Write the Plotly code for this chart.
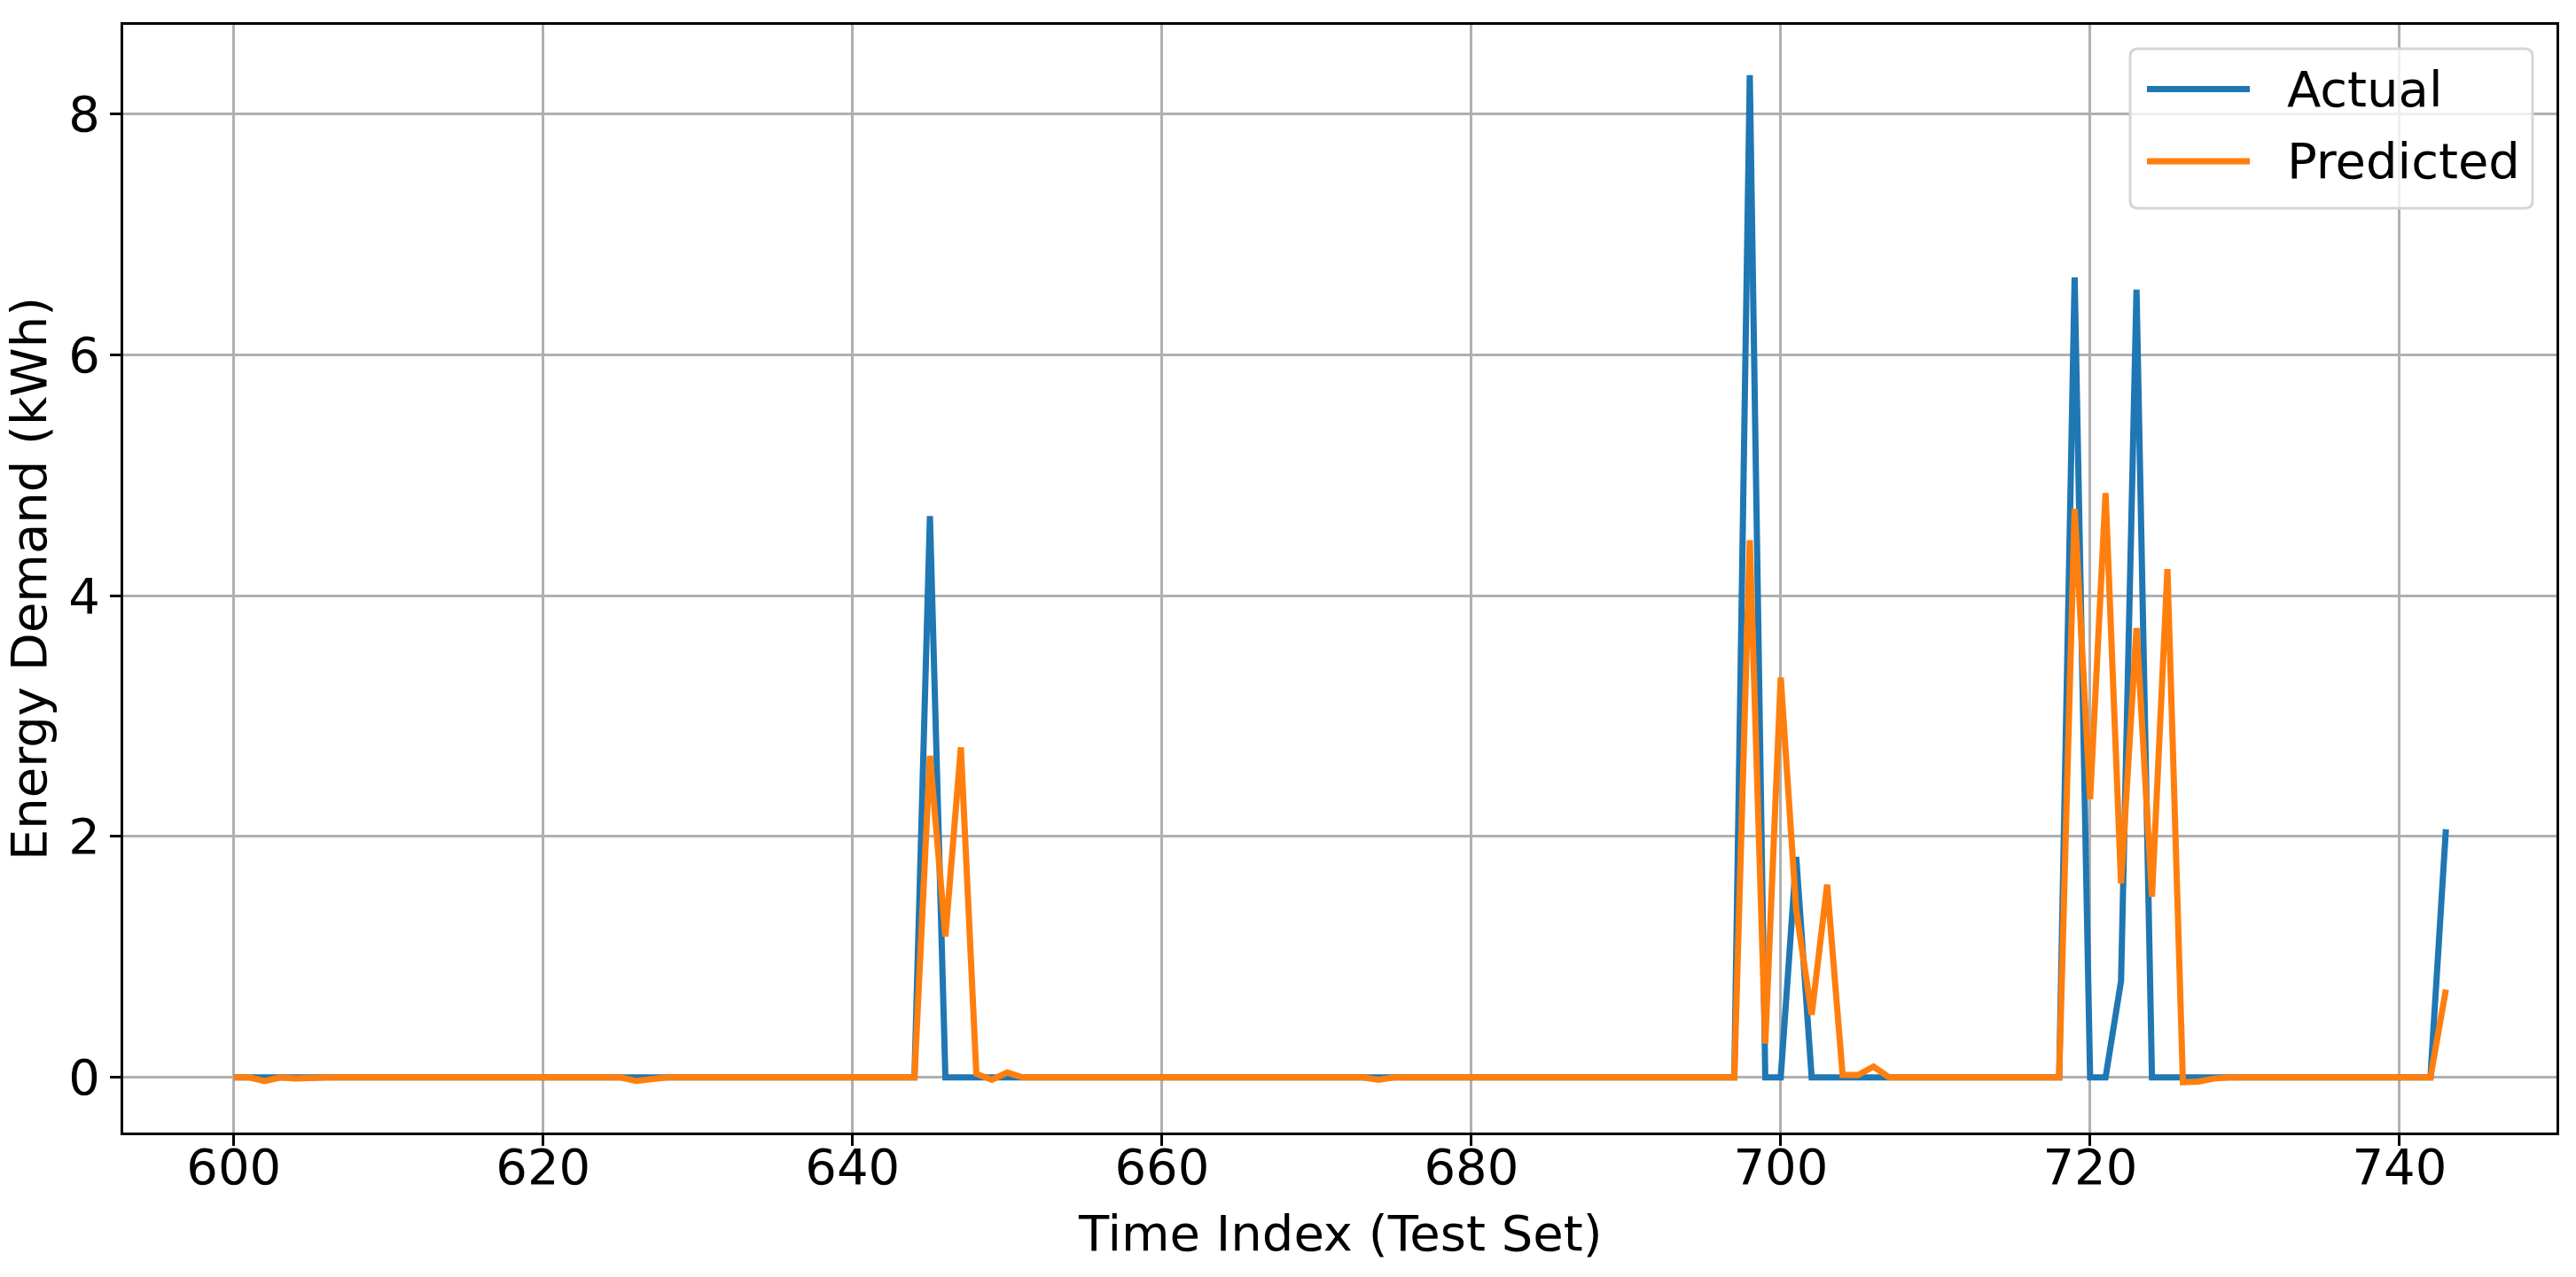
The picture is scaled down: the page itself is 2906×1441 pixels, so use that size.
import plotly.graph_objects as go

# Time index of the test-set slice shown.
time_index = list(range(600, 744))

# Energy demand (kWh), 12 values per row (600-611, 612-623, ...).
actual = [
    0, 0, 0, 0, 0, 0, 0, 0, 0, 0, 0, 0,
    0, 0, 0, 0, 0, 0, 0, 0, 0, 0, 0, 0,
    0, 0, 0, 0, 0, 0, 0, 0, 0, 0, 0, 0,
    0, 0, 0, 0, 0, 0, 0, 0, 0, 4.66, 0, 0,
    0, 0, 0, 0, 0, 0, 0, 0, 0, 0, 0, 0,
    0, 0, 0, 0, 0, 0, 0, 0, 0, 0, 0, 0,
    0, 0, 0, 0, 0, 0, 0, 0, 0, 0, 0, 0,
    0, 0, 0, 0, 0, 0, 0, 0, 0, 0, 0, 0,
    0, 0, 8.32, 0, 0, 1.83, 0, 0, 0, 0, 0, 0,
    0, 0, 0, 0, 0, 0, 0, 0, 0, 0, 0, 6.64,
    0, 0, 0.80, 6.54, 0, 0, 0, 0, 0, 0, 0, 0,
    0, 0, 0, 0, 0, 0, 0, 0, 0, 0, 0, 2.06,
]

predicted = [
    0, 0, -0.03, 0, -0.01, 0, 0, 0, 0, 0, 0, 0,
    0, 0, 0, 0, 0, 0, 0, 0, 0, 0, 0, 0,
    0, 0, -0.03, -0.01, 0, 0, 0, 0, 0, 0, 0, 0,
    0, 0, 0, 0, 0, 0, 0, 0, 0, 2.67, 1.17, 2.74,
    0.03, -0.02, 0.04, 0, 0, 0, 0, 0, 0, 0, 0, 0,
    0, 0, 0, 0, 0, 0, 0, 0, 0, 0, 0, 0,
    0, 0, -0.02, 0, 0, 0, 0, 0, 0, 0, 0, 0,
    0, 0, 0, 0, 0, 0, 0, 0, 0, 0, 0, 0,
    0, 0, 4.46, 0.28, 3.32, 1.39, 0.52, 1.60, 0.02, 0.02, 0.09, 0,
    0, 0, 0, 0, 0, 0, 0, 0, 0, 0, 0, 4.72,
    2.31, 4.85, 1.61, 3.73, 1.50, 4.22, -0.04, -0.035, -0.01, 0, 0, 0,
    0, 0, 0, 0, 0, 0, 0, 0, 0, 0, 0, 0.73,
]

series_names = ["Actual", "Predicted"]
series_colors = ["#1f77b4", "#ff7f0e"]

W, H = 2906, 1441
ML, MR, MT, MB = 139, 22, 28, 163
FONT = dict(family="DejaVu Sans", size=56, color="black")
LW = 7

# matplotlib-like 5% autoscale margins
xmin, xmax = min(time_index), max(time_index)
ymin = min(min(actual), min(predicted))
ymax = max(max(actual), max(predicted))
xpad = (xmax - xmin) * 0.05
ypad = (ymax - ymin) * 0.05

fig = go.Figure()
for name, vals, color in zip(series_names, [actual, predicted], series_colors):
    fig.add_trace(go.Scatter(x=time_index, y=vals, mode="lines", name=name,
                             line=dict(color=color, width=LW), showlegend=False))

axis_common = dict(
    showline=True, linecolor="black", linewidth=3, mirror=True,
    ticks="outside", ticklen=12, tickwidth=3, tickcolor="black",
    showgrid=True, gridcolor="#b0b0b0", gridwidth=2.7, zeroline=False,
    tickfont=FONT,
)

fig.update_layout(
    width=W, height=H,
    margin=dict(l=ML, r=MR, t=MT, b=MB),
    paper_bgcolor="white", plot_bgcolor="white",
    font=FONT,
    xaxis=dict(range=[xmin - xpad, xmax + xpad], tick0=600, dtick=20,
               ticklabelstandoff=-24, **axis_common),
    yaxis=dict(range=[ymin - ypad, ymax + ypad], tick0=0, dtick=2,
               title=dict(text="Energy Demand (kWh)", font=FONT, standoff=20),
               **axis_common),
)

# helpers to place decorations by pixel position
pw, ph = W - ML - MR, H - MT - MB


def px_x(p):
    return (p - ML) / pw


def px_y(p):
    return (H - MB - p) / ph


fig.add_annotation(x=0.5, y=px_y(1391), xref="paper", yref="paper",
                   text="Time Index (Test Set)", showarrow=False,
                   xanchor="center", yanchor="middle", font=FONT)

# Legend drawn to look like matplotlib's (rounded frame, long line samples).
bx0, bx1, by0, by1 = px_x(2403), px_x(2857), px_y(235), px_y(55)
rx, ry = 9 / pw, 9 / ph
frame = (f"M{bx0 + rx},{by0} L{bx1 - rx},{by0} Q{bx1},{by0} {bx1},{by0 + ry} "
         f"L{bx1},{by1 - ry} Q{bx1},{by1} {bx1 - rx},{by1} L{bx0 + rx},{by1} "
         f"Q{bx0},{by1} {bx0},{by1 - ry} L{bx0},{by0 + ry} Q{bx0},{by0} {bx0 + rx},{by0} Z")
fig.add_shape(type="path", path=frame, xref="paper", yref="paper",
              fillcolor="rgba(255,255,255,0.8)", line=dict(color="#d6d6d6", width=3),
              layer="above")

for i, (name, color) in enumerate(zip(series_names, series_colors)):
    row_y = px_y(100.5 + i * 81.5)
    fig.add_shape(type="line", xref="paper", yref="paper",
                  x0=px_x(2422), x1=px_x(2538), y0=row_y, y1=row_y,
                  line=dict(color=color, width=LW), layer="above")
    fig.add_annotation(x=px_x(2578), y=row_y, xref="paper", yref="paper",
                       text=name, showarrow=False, xanchor="left", yanchor="middle",
                       font=FONT)

# drop the browser's default page margin so the figure sits at the top-left corner
fig.write_html("out.html", config={"displayModeBar": False},
               post_script="document.body.style.margin='0';")
